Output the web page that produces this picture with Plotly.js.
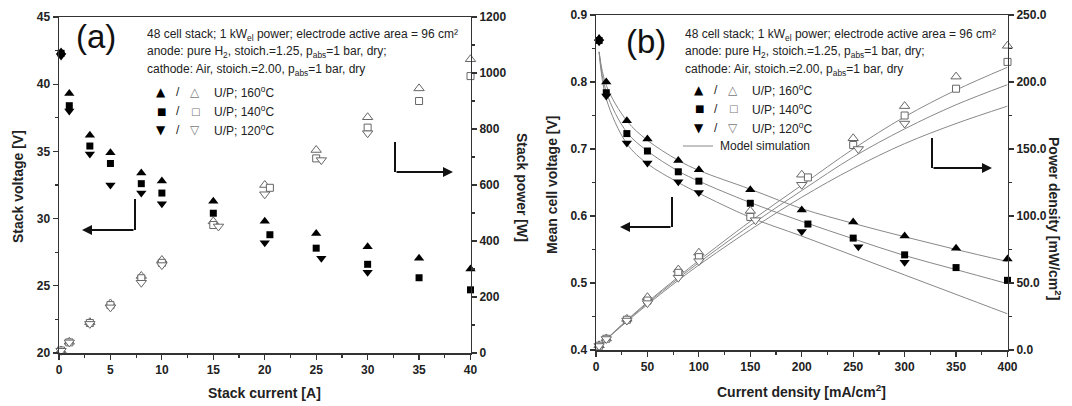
<!DOCTYPE html>
<html><head><meta charset="utf-8">
<script src="https://cdn.plot.ly/plotly-3.0.1.min.js"></script>
<style>html,body{margin:0;padding:0;background:#fff}#chart{width:1072px;height:406px}</style>
</head><body><div id="chart"></div>
<script>
// ---------- Panel (a): stack data ----------
const curA160 = [0.2, 1, 3, 5, 8, 10, 15, 20, 25, 30, 35, 40];
const volA160 = [42.4, 39.3, 36.2, 34.9, 33.4, 32.8, 31.3, 29.8, 28.9, 27.9, 27.05, 26.25];
const powA160 = [9, 40, 110, 177, 275, 332, 470, 600, 725, 842, 945, 1049];
const curA140 = [0.2, 1, 3, 5, 8, 10, 15, 20.5, 25, 30, 35, 40];
const volA140 = [42.3, 38.4, 35.4, 34.1, 32.6, 31.9, 30.4, 28.8, 27.8, 26.6, 25.6, 24.7];
const powA140 = [9, 38, 107, 171, 267, 322, 457, 590, 695, 805, 900, 989];
const curA120V = [0.2, 1, 3, 5, 8, 10, 20, 25.5, 30];
const volA120 = [42.1, 38.0, 34.8, 32.5, 31.9, 31.1, 28.2, 27.05, 26.0];
const curA120P = [0.2, 1, 3, 5, 8, 10, 15.5, 20, 25.5, 30];
const powA120 = [8, 38, 104, 163, 251, 314, 452, 567, 689, 785];

// ---------- Panel (b): cell data ----------
const cdB160 = [3, 10, 30, 50, 80, 100, 150, 200, 250, 300, 350, 400];
const volB160 = [0.865, 0.800, 0.742, 0.715, 0.683, 0.669, 0.639, 0.609, 0.591, 0.570, 0.552, 0.536];
const pdB160 = [3.5, 8.6, 23.2, 39.4, 60, 72.6, 103.8, 130.8, 158, 182, 204, 227];
const cdB140 = [3, 10, 30, 50, 80, 100, 150, 206, 250, 300, 350, 400];
const volB140 = [0.862, 0.784, 0.723, 0.697, 0.666, 0.652, 0.619, 0.588, 0.567, 0.542, 0.523, 0.504];
const pdB140 = [3.2, 8.4, 22.6, 36.9, 57.6, 69.3, 99.3, 128.8, 153, 175, 195, 215];
const cdB120V = [3, 10, 30, 50, 80, 100, 200, 255, 300];
const volB120 = [0.860, 0.779, 0.709, 0.679, 0.651, 0.635, 0.577, 0.554, 0.531];
const cdB120P = [3, 10, 30, 50, 80, 100, 155, 200, 255, 300];
const pdB120 = [3, 8.2, 22, 35, 54, 66.3, 96.9, 123.3, 150, 169];

// model simulation
const cdModel = [3, 10, 30, 50, 80, 100, 150, 200, 250, 300, 350, 400];
const volM160 = [0.845, 0.795, 0.742, 0.713, 0.683, 0.668, 0.640, 0.611, 0.589, 0.569, 0.550, 0.532];
const volM140 = [0.845, 0.785, 0.725, 0.697, 0.667, 0.652, 0.620, 0.592, 0.566, 0.541, 0.520, 0.499];
const volM120 = [0.845, 0.775, 0.708, 0.678, 0.650, 0.634, 0.598, 0.570, 0.541, 0.512, 0.483, 0.454];
const pdM160 = [2.5, 8.0, 22.3, 35.7, 54.6, 66.8, 96.0, 123.0, 150.0, 174.0, 194.0, 211.0];
const pdM140 = [2.5, 7.9, 21.8, 34.9, 53.4, 65.2, 93.0, 119.0, 144.0, 165.0, 183.0, 198.0];
const pdM120 = [2.5, 7.8, 21.2, 33.9, 52.0, 63.4, 89.7, 114.0, 135.5, 154.0, 169.0, 182.0];

// ---------- helpers ----------
const W = 1072, H = 406;
const px = x => x / W, py = y => 1 - y / H;
const openM = (sym) => ({symbol: sym, size: 9, color: '#fff', line: {color: '#666', width: 1}});
const filledM = (sym, s) => ({symbol: sym, size: s || 9, color: '#000'});
const modelLine = {color: '#888', width: 1, shape: 'spline'};

function sc(x, y, xa, ya, marker) {
  return {type: 'scatter', mode: 'markers', x: x, y: y, xaxis: xa, yaxis: ya, marker: marker, cliponaxis: false, showlegend: false, hoverinfo: 'skip'};
}
function ln(x, y, xa, ya) {
  return {type: 'scatter', mode: 'lines', x: x, y: y, xaxis: xa, yaxis: ya, line: modelLine, showlegend: false, hoverinfo: 'skip'};
}

const traces = [
  sc(curA160, volA160, 'x', 'y', filledM('triangle-up')),
  sc(curA140, volA140, 'x', 'y', filledM('square', 7)),
  sc(curA120V, volA120, 'x', 'y', filledM('triangle-down')),
  sc(curA160, powA160, 'x', 'y2', openM('triangle-up')),
  sc(curA140, powA140, 'x', 'y2', Object.assign(openM('square'), {size: 7})),
  sc(curA120P, powA120, 'x', 'y2', openM('triangle-down')),
  ln(cdModel, volM160, 'x2', 'y3'),
  ln(cdModel, volM140, 'x2', 'y3'),
  ln(cdModel, volM120, 'x2', 'y3'),
  ln(cdModel, pdM160, 'x2', 'y4'),
  ln(cdModel, pdM140, 'x2', 'y4'),
  ln(cdModel, pdM120, 'x2', 'y4'),
  sc(cdB160, volB160, 'x2', 'y3', filledM('triangle-up')),
  sc(cdB140, volB140, 'x2', 'y3', filledM('square', 7)),
  sc(cdB120V, volB120, 'x2', 'y3', filledM('triangle-down')),
  sc(cdB160, pdB160, 'x2', 'y4', openM('triangle-up')),
  sc(cdB140, pdB140, 'x2', 'y4', Object.assign(openM('square'), {size: 7})),
  sc(cdB120P, pdB120, 'x2', 'y4', openM('triangle-down'))
];

const tickfont = {family: 'Liberation Sans, Arial, sans-serif', size: 12, color: '#222', weight: 'bold'};
function axis(extra) {
  return Object.assign({
    showgrid: false, zeroline: false, showline: true, linecolor: '#333', linewidth: 1.5,
    ticks: 'outside', ticklen: 5, tickwidth: 1.2, tickcolor: '#333', tickfont: tickfont,
    fixedrange: true
  }, extra);
}
const domAy = [(H - 353) / H, (H - 17) / H];
const domBy = [(H - 350) / H, (H - 15) / H];

const layout = {
  width: W, height: H,
  margin: {l: 0, r: 0, t: 0, b: 0},
  paper_bgcolor: '#fff', plot_bgcolor: '#fff',
  showlegend: false,
  xaxis: axis({domain: [px(59), px(470.5)], range: [0, 40], anchor: 'y', tick0: 0, dtick: 5, mirror: true,
    minor: {dtick: 2.5, ticks: 'outside', ticklen: 3, tickcolor: '#333'}}),
  yaxis: axis({domain: domAy, range: [20, 45], anchor: 'x', tick0: 20, dtick: 5,
    minor: {dtick: 2.5, ticks: 'outside', ticklen: 3, tickcolor: '#333'}}),
  yaxis2: axis({overlaying: 'y', side: 'right', anchor: 'x', range: [0, 1200], tick0: 0, dtick: 200,
    minor: {dtick: 100, ticks: 'outside', ticklen: 3, tickcolor: '#333'}}),
  xaxis2: axis({domain: [px(596), px(1007.5)], range: [0, 400], anchor: 'y3', tick0: 0, dtick: 50, mirror: true,
    minor: {dtick: 25, ticks: 'outside', ticklen: 3, tickcolor: '#333'}}),
  yaxis3: axis({domain: domBy, range: [0.4, 0.9], anchor: 'x2', tick0: 0.4, dtick: 0.1, tickformat: '.1f',
    minor: {dtick: 0.05, ticks: 'outside', ticklen: 3, tickcolor: '#333'}}),
  yaxis4: axis({overlaying: 'y3', side: 'right', anchor: 'x2', range: [0, 250], tick0: 0, dtick: 50, tickformat: '.1f',
    minor: {dtick: 25, ticks: 'outside', ticklen: 3, tickcolor: '#333'}}),
  annotations: [],
  shapes: []
};

const A = layout.annotations, S = layout.shapes;
const titleFont = {family: 'Liberation Sans, Arial, sans-serif', size: 14, color: '#222', weight: 'bold'};
const txtFont = {family: 'Liberation Sans Narrow, Liberation Sans, sans-serif', size: 12, color: '#222'};
function note(text, x, y, opts) {
  A.push(Object.assign({text: text, x: px(x), y: py(y), xref: 'paper', yref: 'paper', showarrow: false,
    xanchor: 'left', yanchor: 'middle', font: txtFont}, opts || {}));
}
note('Stack current [A]', 264, 393, {xanchor: 'center', font: titleFont});
note('Stack voltage [V]', 18, 187, {xanchor: 'center', textangle: -90, font: titleFont});
note('Stack power [W]', 522, 187, {xanchor: 'center', textangle: 90, font: titleFont});
note('Current density [mA/cm<sup>2</sup>]', 801, 391, {xanchor: 'center', font: titleFont});
note('Mean cell voltage [V]', 552, 185, {xanchor: 'center', textangle: -90, font: titleFont});
note('Power density [mW/cm<sup>2</sup>]', 1055, 218, {xanchor: 'center', textangle: 90, font: titleFont});
note('(a)', 96, 36, {xanchor: 'center', font: {family: 'Liberation Sans, Arial, sans-serif', size: 33, color: '#111'}});
note('(b)', 646, 42, {xanchor: 'center', font: {family: 'Liberation Sans, Arial, sans-serif', size: 33, color: '#111'}});

function info(x0, y0, rows, symX, withModel) {
  note('48 cell stack; 1 kW<sub>el</sub> power; electrode active area = 96 cm²', x0, y0);
  note('anode: pure H<sub>2</sub>, stoich.=1.25, p<sub>abs</sub>=1 bar, dry;', x0, y0 + 17.5);
  note('cathode: Air, stoich.=2.00, p<sub>abs</sub>=1 bar, dry', x0, y0 + 35);
  const leg = [['▲', '△', '160'], ['■', '□', '140'], ['▼', '▽', '120']];
  leg.forEach((r, i) => {
    const y = rows[i];
    note(r[0], symX, y, {xanchor: 'center', font: {family: 'DejaVu Sans', size: i === 1 ? 10 : 12, color: '#000'}});
    note('/', symX + 17, y, {xanchor: 'center'});
    note(r[1], symX + 34, y, {xanchor: 'center', font: {family: 'DejaVu Sans', size: i === 1 ? 10 : 12, color: '#777'}});
    note('U/P; ' + r[2] + '<sup>o</sup>C', symX + 51, y);
  });
  if (withModel) {
    S.push({type: 'line', xref: 'paper', yref: 'paper', x0: px(symX - 16), x1: px(symX + 14), y0: py(rows[2] + 18), y1: py(rows[2] + 18), line: {color: '#888', width: 1}});
    note('Model simulation', symX + 19, rows[2] + 18);
  }
}
info(145, 35, [92, 111, 130], 161, false);
info(683, 35, [90, 109, 128], 699, true);

function lArrow(vx, vy0, vy1, headX) {
  S.push({type: 'line', xref: 'paper', yref: 'paper', x0: px(vx), x1: px(vx), y0: py(vy0), y1: py(vy1), line: {color: '#111', width: 2}});
  A.push({x: px(headX), y: py(vy1), xref: 'paper', yref: 'paper', ax: vx - headX, ay: 0, axref: 'pixel', ayref: 'pixel',
    showarrow: true, arrowhead: 2, arrowsize: 1, arrowwidth: 2, arrowcolor: '#111', text: ''});
}
lArrow(135, 199, 230, 82);
lArrow(395, 142, 172, 453);
lArrow(672, 197, 227, 620);
lArrow(932, 138, 168, 992);

Plotly.newPlot('chart', traces, layout, {displayModeBar: false, staticPlot: true});
</script>
</body></html>
